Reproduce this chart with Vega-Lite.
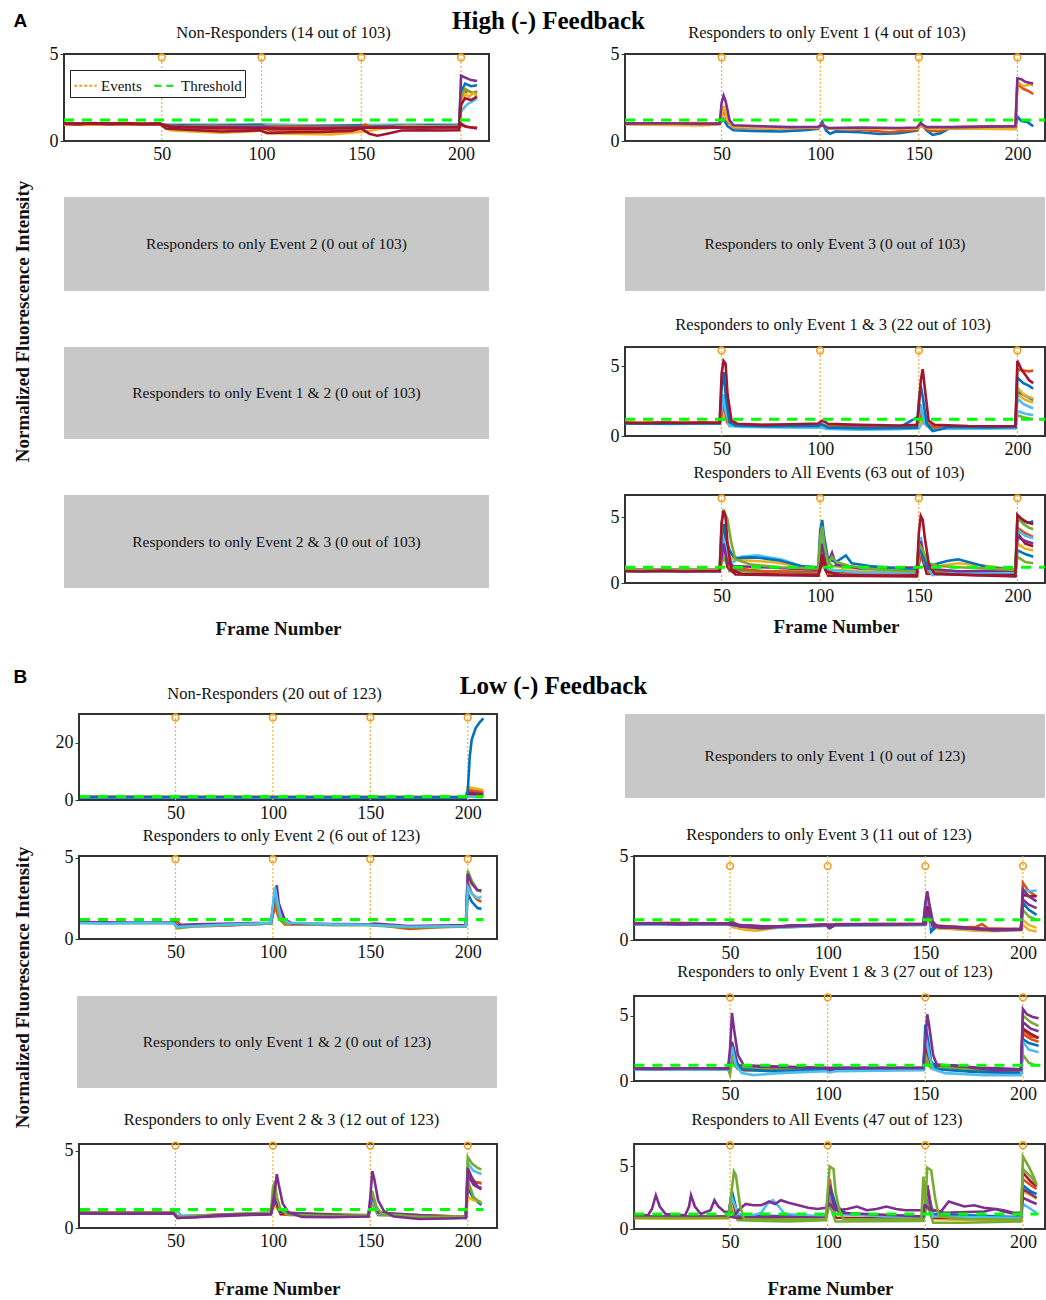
{
"$schema":"https://vega.github.io/schema/vega-lite/v6.json",
"background":"white",
"padding":{"left":12,"top":8,"right":0,"bottom":0},
"config":{
 "font":"Liberation Serif",
 "range":{"category":["#0072BD","#D95319","#EDB120","#7E2F8E","#77AC30","#4DBEEE","#A2142F","#0072BD","#D95319","#EDB120","#7E2F8E","#77AC30","#4DBEEE","#A2142F"]},
 "view":{"stroke":"#333333","strokeWidth":2},
 "axis":{"grid":false,"domain":false,"labelFont":"Liberation Serif","labelFontSize":18,"labelColor":"#111","tickColor":"#333","tickSize":4,"titleFont":"Liberation Serif","titleFontSize":19,"titleFontWeight":"bold","titleColor":"#111"},
 "axisX":{"ticks":false,"labelPadding":4},
 "axisY":{"labelPadding":2},
 "title":{"font":"Liberation Serif","fontSize":16.5,"fontWeight":"normal","color":"#111","offset":10},
 "legend":{"labelFont":"Liberation Serif","labelFontSize":15,"labelColor":"#111"}
},
"datasets":{
"ev":[{"e":50},{"e":100},{"e":150},{"e":200}],
"one":[{"k":1}],
"lg":[{"k":"Events"},{"k":"Threshold"}],
"a1":[
{"s":6,"x":1,"y":0.96},{"s":6,"x":20,"y":0.94},{"s":6,"x":49,"y":0.96},{"s":6,"x":55,"y":0.95},{"s":6,"x":80,"y":0.94},{"s":6,"x":100,"y":0.96},{"s":6,"x":125,"y":0.9},{"s":6,"x":150,"y":0.92},{"s":6,"x":175,"y":0.95},{"s":6,"x":199,"y":0.95},{"s":6,"x":200,"y":1.7},{"s":6,"x":203,"y":2.1},{"s":6,"x":206,"y":2.3},{"s":6,"x":208,"y":2.45},
{"s":1,"x":1,"y":1.0},{"s":1,"x":10,"y":0.97},{"s":1,"x":20,"y":1.0},{"s":1,"x":30,"y":0.96},{"s":1,"x":40,"y":1.0},{"s":1,"x":49,"y":0.98},{"s":1,"x":52,"y":0.88},{"s":1,"x":60,"y":0.9},{"s":1,"x":75,"y":0.87},{"s":1,"x":90,"y":0.9},{"s":1,"x":100,"y":0.92},{"s":1,"x":103,"y":0.82},{"s":1,"x":120,"y":0.85},{"s":1,"x":140,"y":0.88},{"s":1,"x":150,"y":0.9},{"s":1,"x":153,"y":0.82},{"s":1,"x":170,"y":0.88},{"s":1,"x":185,"y":0.9},{"s":1,"x":199,"y":0.88},{"s":1,"x":200,"y":2.8},{"s":1,"x":202,"y":3.3},{"s":1,"x":205,"y":3.15},{"s":1,"x":208,"y":3.2},
{"s":9,"x":1,"y":0.98},{"s":9,"x":49,"y":0.98},{"s":9,"x":55,"y":0.85},{"s":9,"x":100,"y":0.85},{"s":9,"x":150,"y":0.82},{"s":9,"x":199,"y":0.85},{"s":9,"x":200,"y":0.9},{"s":9,"x":203,"y":0.8},{"s":9,"x":208,"y":0.78},
{"s":2,"x":1,"y":1.02},{"s":2,"x":15,"y":1.0},{"s":2,"x":30,"y":1.03},{"s":2,"x":49,"y":1.0},{"s":2,"x":53,"y":0.78},{"s":2,"x":65,"y":0.72},{"s":2,"x":80,"y":0.7},{"s":2,"x":99,"y":0.75},{"s":2,"x":103,"y":0.6},{"s":2,"x":120,"y":0.62},{"s":2,"x":140,"y":0.65},{"s":2,"x":149,"y":0.72},{"s":2,"x":152,"y":0.95},{"s":2,"x":156,"y":0.72},{"s":2,"x":170,"y":0.78},{"s":2,"x":185,"y":0.75},{"s":2,"x":199,"y":0.72},{"s":2,"x":200,"y":2.4},{"s":2,"x":203,"y":2.9},{"s":2,"x":206,"y":2.75},{"s":2,"x":208,"y":2.85},
{"s":5,"x":1,"y":1.0},{"s":5,"x":25,"y":0.98},{"s":5,"x":49,"y":1.0},{"s":5,"x":54,"y":0.8},{"s":5,"x":80,"y":0.78},{"s":5,"x":100,"y":0.82},{"s":5,"x":104,"y":0.72},{"s":5,"x":150,"y":0.76},{"s":5,"x":175,"y":0.8},{"s":5,"x":199,"y":0.82},{"s":5,"x":200,"y":2.6},{"s":5,"x":202,"y":3.0},{"s":5,"x":205,"y":2.8},{"s":5,"x":208,"y":2.75},
{"s":3,"x":1,"y":0.95},{"s":3,"x":12,"y":0.92},{"s":3,"x":25,"y":0.96},{"s":3,"x":40,"y":0.93},{"s":3,"x":49,"y":0.95},{"s":3,"x":54,"y":0.62},{"s":3,"x":65,"y":0.55},{"s":3,"x":80,"y":0.48},{"s":3,"x":95,"y":0.55},{"s":3,"x":100,"y":0.62},{"s":3,"x":105,"y":0.45},{"s":3,"x":120,"y":0.4},{"s":3,"x":135,"y":0.38},{"s":3,"x":148,"y":0.5},{"s":3,"x":152,"y":0.55},{"s":3,"x":160,"y":0.7},{"s":3,"x":172,"y":0.88},{"s":3,"x":185,"y":0.85},{"s":3,"x":199,"y":0.82},{"s":3,"x":200,"y":2.0},{"s":3,"x":202,"y":2.7},{"s":3,"x":204,"y":2.55},{"s":3,"x":206,"y":2.75},{"s":3,"x":208,"y":2.6},
{"s":4,"x":1,"y":1.0},{"s":4,"x":20,"y":1.02},{"s":4,"x":40,"y":0.98},{"s":4,"x":49,"y":1.0},{"s":4,"x":54,"y":0.82},{"s":4,"x":70,"y":0.78},{"s":4,"x":100,"y":0.8},{"s":4,"x":110,"y":0.72},{"s":4,"x":150,"y":0.78},{"s":4,"x":170,"y":0.8},{"s":4,"x":199,"y":0.8},{"s":4,"x":200,"y":3.75},{"s":4,"x":203,"y":3.6},{"s":4,"x":205,"y":3.5},{"s":4,"x":208,"y":3.45},
{"s":14,"x":1,"y":1.0},{"s":14,"x":30,"y":0.98},{"s":14,"x":49,"y":0.97},{"s":14,"x":55,"y":0.82},{"s":14,"x":80,"y":0.75},{"s":14,"x":100,"y":0.72},{"s":14,"x":130,"y":0.7},{"s":14,"x":150,"y":0.76},{"s":14,"x":175,"y":0.78},{"s":14,"x":199,"y":0.8},{"s":14,"x":200,"y":1.0},{"s":14,"x":202,"y":0.85},{"s":14,"x":205,"y":0.78},{"s":14,"x":208,"y":0.72},
{"s":7,"x":1,"y":1.0},{"s":7,"x":8,"y":0.95},{"s":7,"x":16,"y":1.03},{"s":7,"x":24,"y":0.97},{"s":7,"x":32,"y":1.02},{"s":7,"x":40,"y":0.96},{"s":7,"x":49,"y":1.0},{"s":7,"x":52,"y":0.72},{"s":7,"x":60,"y":0.66},{"s":7,"x":70,"y":0.6},{"s":7,"x":80,"y":0.55},{"s":7,"x":90,"y":0.58},{"s":7,"x":99,"y":0.62},{"s":7,"x":103,"y":0.45},{"s":7,"x":115,"y":0.5},{"s":7,"x":130,"y":0.52},{"s":7,"x":145,"y":0.58},{"s":7,"x":150,"y":0.72},{"s":7,"x":154,"y":0.42},{"s":7,"x":158,"y":0.3},{"s":7,"x":163,"y":0.42},{"s":7,"x":170,"y":0.6},{"s":7,"x":180,"y":0.62},{"s":7,"x":190,"y":0.6},{"s":7,"x":199,"y":0.62},{"s":7,"x":200,"y":2.1},{"s":7,"x":202,"y":2.45},{"s":7,"x":205,"y":2.35},{"s":7,"x":208,"y":2.55}
],
"a2":[
{"s":1,"x":1,"y":1.0},{"s":1,"x":15,"y":0.98},{"s":1,"x":30,"y":1.0},{"s":1,"x":45,"y":0.97},{"s":1,"x":49,"y":1.0},{"s":1,"x":51,"y":1.25},{"s":1,"x":53,"y":0.85},{"s":1,"x":56,"y":0.62},{"s":1,"x":65,"y":0.58},{"s":1,"x":80,"y":0.55},{"s":1,"x":92,"y":0.62},{"s":1,"x":99,"y":0.7},{"s":1,"x":101,"y":1.1},{"s":1,"x":103,"y":0.6},{"s":1,"x":105,"y":0.42},{"s":1,"x":108,"y":0.55},{"s":1,"x":120,"y":0.5},{"s":1,"x":130,"y":0.4},{"s":1,"x":140,"y":0.45},{"s":1,"x":149,"y":0.6},{"s":1,"x":151,"y":1.05},{"s":1,"x":154,"y":0.6},{"s":1,"x":157,"y":0.35},{"s":1,"x":161,"y":0.45},{"s":1,"x":165,"y":0.7},{"s":1,"x":180,"y":0.72},{"s":1,"x":199,"y":0.72},{"s":1,"x":200,"y":1.4},{"s":1,"x":202,"y":1.15},{"s":1,"x":205,"y":1.1},{"s":1,"x":208,"y":0.85},
{"s":2,"x":1,"y":1.02},{"s":2,"x":20,"y":1.0},{"s":2,"x":35,"y":1.03},{"s":2,"x":49,"y":1.0},{"s":2,"x":51,"y":1.8},{"s":2,"x":53,"y":1.1},{"s":2,"x":56,"y":0.78},{"s":2,"x":75,"y":0.72},{"s":2,"x":99,"y":0.75},{"s":2,"x":101,"y":0.95},{"s":2,"x":104,"y":0.7},{"s":2,"x":120,"y":0.65},{"s":2,"x":135,"y":0.5},{"s":2,"x":149,"y":0.65},{"s":2,"x":151,"y":0.9},{"s":2,"x":155,"y":0.6},{"s":2,"x":160,"y":0.55},{"s":2,"x":168,"y":0.8},{"s":2,"x":185,"y":0.85},{"s":2,"x":199,"y":0.85},{"s":2,"x":200,"y":3.3},{"s":2,"x":203,"y":3.0},{"s":2,"x":206,"y":2.85},{"s":2,"x":208,"y":2.7},
{"s":3,"x":1,"y":0.95},{"s":3,"x":20,"y":0.92},{"s":3,"x":40,"y":0.9},{"s":3,"x":49,"y":0.95},{"s":3,"x":51,"y":2.0},{"s":3,"x":53,"y":1.2},{"s":3,"x":56,"y":0.8},{"s":3,"x":75,"y":0.75},{"s":3,"x":99,"y":0.78},{"s":3,"x":101,"y":0.9},{"s":3,"x":104,"y":0.72},{"s":3,"x":130,"y":0.7},{"s":3,"x":149,"y":0.7},{"s":3,"x":151,"y":0.9},{"s":3,"x":155,"y":0.72},{"s":3,"x":180,"y":0.7},{"s":3,"x":199,"y":0.68},{"s":3,"x":200,"y":3.4},{"s":3,"x":203,"y":3.15},{"s":3,"x":206,"y":3.25},{"s":3,"x":208,"y":3.2},
{"s":4,"x":1,"y":1.0},{"s":4,"x":20,"y":1.02},{"s":4,"x":40,"y":0.98},{"s":4,"x":49,"y":1.0},{"s":4,"x":50,"y":2.2},{"s":4,"x":51,"y":2.6},{"s":4,"x":52,"y":2.3},{"s":4,"x":54,"y":1.2},{"s":4,"x":56,"y":0.9},{"s":4,"x":70,"y":0.85},{"s":4,"x":85,"y":0.8},{"s":4,"x":99,"y":0.82},{"s":4,"x":101,"y":0.9},{"s":4,"x":104,"y":0.75},{"s":4,"x":120,"y":0.78},{"s":4,"x":140,"y":0.75},{"s":4,"x":149,"y":0.78},{"s":4,"x":151,"y":1.0},{"s":4,"x":154,"y":0.8},{"s":4,"x":170,"y":0.8},{"s":4,"x":185,"y":0.82},{"s":4,"x":199,"y":0.85},{"s":4,"x":200,"y":3.6},{"s":4,"x":202,"y":3.55},{"s":4,"x":204,"y":3.4},{"s":4,"x":206,"y":3.35},{"s":4,"x":208,"y":3.3}
],
"a3":[
{"s":13,"x":1,"y":0.9},{"s":13,"x":49,"y":0.88},{"s":13,"x":51,"y":1.4},{"s":13,"x":54,"y":0.7},{"s":13,"x":100,"y":0.6},{"s":13,"x":150,"y":0.55},{"s":13,"x":152,"y":1.0},{"s":13,"x":156,"y":0.5},{"s":13,"x":199,"y":0.55},{"s":13,"x":200,"y":1.8},{"s":13,"x":204,"y":1.6},{"s":13,"x":208,"y":1.5},
{"s":10,"x":1,"y":0.97},{"s":10,"x":49,"y":0.95},{"s":10,"x":51,"y":1.5},{"s":10,"x":54,"y":0.8},{"s":10,"x":100,"y":0.75},{"s":10,"x":150,"y":0.7},{"s":10,"x":152,"y":1.2},{"s":10,"x":156,"y":0.7},{"s":10,"x":199,"y":0.66},{"s":10,"x":200,"y":3.0},{"s":10,"x":204,"y":2.6},{"s":10,"x":208,"y":2.4},
{"s":8,"x":1,"y":0.92},{"s":8,"x":49,"y":0.9},{"s":8,"x":51,"y":2.0},{"s":8,"x":54,"y":0.85},{"s":8,"x":80,"y":0.7},{"s":8,"x":100,"y":0.7},{"s":8,"x":140,"y":0.6},{"s":8,"x":151,"y":1.5},{"s":8,"x":155,"y":0.7},{"s":8,"x":199,"y":0.62},{"s":8,"x":200,"y":3.2},{"s":8,"x":204,"y":2.9},{"s":8,"x":208,"y":2.6},
{"s":5,"x":1,"y":0.92},{"s":5,"x":30,"y":0.9},{"s":5,"x":49,"y":0.92},{"s":5,"x":50,"y":1.8},{"s":5,"x":51,"y":2.5},{"s":5,"x":53,"y":1.0},{"s":5,"x":57,"y":0.78},{"s":5,"x":90,"y":0.75},{"s":5,"x":99,"y":0.78},{"s":5,"x":103,"y":0.7},{"s":5,"x":140,"y":0.66},{"s":5,"x":149,"y":0.7},{"s":5,"x":151,"y":2.0},{"s":5,"x":153,"y":1.0},{"s":5,"x":158,"y":0.65},{"s":5,"x":199,"y":0.66},{"s":5,"x":200,"y":1.5},{"s":5,"x":203,"y":1.35},{"s":5,"x":208,"y":1.2},
{"s":3,"x":1,"y":0.95},{"s":3,"x":30,"y":0.98},{"s":3,"x":49,"y":0.95},{"s":3,"x":51,"y":1.8},{"s":3,"x":53,"y":0.9},{"s":3,"x":57,"y":0.72},{"s":3,"x":90,"y":0.7},{"s":3,"x":99,"y":0.72},{"s":3,"x":103,"y":0.68},{"s":3,"x":130,"y":0.55},{"s":3,"x":149,"y":0.6},{"s":3,"x":151,"y":1.3},{"s":3,"x":154,"y":0.7},{"s":3,"x":180,"y":0.62},{"s":3,"x":199,"y":0.58},{"s":3,"x":200,"y":3.5},{"s":3,"x":203,"y":3.0},{"s":3,"x":206,"y":2.8},{"s":3,"x":208,"y":2.7},
{"s":2,"x":1,"y":0.95},{"s":2,"x":25,"y":0.95},{"s":2,"x":49,"y":0.93},{"s":2,"x":51,"y":2.2},{"s":2,"x":53,"y":1.0},{"s":2,"x":57,"y":0.8},{"s":2,"x":80,"y":0.78},{"s":2,"x":99,"y":0.8},{"s":2,"x":103,"y":0.7},{"s":2,"x":130,"y":0.6},{"s":2,"x":149,"y":0.65},{"s":2,"x":151,"y":1.6},{"s":2,"x":153,"y":0.9},{"s":2,"x":158,"y":0.6},{"s":2,"x":180,"y":0.62},{"s":2,"x":199,"y":0.6},{"s":2,"x":200,"y":4.8},{"s":2,"x":203,"y":4.7},{"s":2,"x":206,"y":4.65},{"s":2,"x":208,"y":4.7},
{"s":6,"x":1,"y":0.9},{"s":6,"x":25,"y":0.87},{"s":6,"x":49,"y":0.9},{"s":6,"x":51,"y":3.0},{"s":6,"x":52,"y":1.8},{"s":6,"x":54,"y":0.8},{"s":6,"x":60,"y":0.65},{"s":6,"x":90,"y":0.62},{"s":6,"x":100,"y":0.65},{"s":6,"x":103,"y":0.5},{"s":6,"x":120,"y":0.45},{"s":6,"x":140,"y":0.48},{"s":6,"x":149,"y":0.55},{"s":6,"x":151,"y":2.3},{"s":6,"x":153,"y":0.9},{"s":6,"x":157,"y":0.4},{"s":6,"x":165,"y":0.6},{"s":6,"x":199,"y":0.6},{"s":6,"x":200,"y":2.7},{"s":6,"x":203,"y":2.3},{"s":6,"x":206,"y":2.1},{"s":6,"x":208,"y":2.0},
{"s":1,"x":1,"y":0.9},{"s":1,"x":20,"y":0.88},{"s":1,"x":40,"y":0.92},{"s":1,"x":49,"y":0.9},{"s":1,"x":50,"y":3.5},{"s":1,"x":51,"y":4.6},{"s":1,"x":52,"y":3.0},{"s":1,"x":54,"y":1.0},{"s":1,"x":57,"y":0.75},{"s":1,"x":75,"y":0.7},{"s":1,"x":99,"y":0.72},{"s":1,"x":101,"y":0.85},{"s":1,"x":104,"y":0.6},{"s":1,"x":125,"y":0.55},{"s":1,"x":149,"y":0.6},{"s":1,"x":150,"y":2.5},{"s":1,"x":151,"y":3.6},{"s":1,"x":152,"y":2.8},{"s":1,"x":154,"y":0.9},{"s":1,"x":157,"y":0.35},{"s":1,"x":160,"y":0.45},{"s":1,"x":165,"y":0.65},{"s":1,"x":185,"y":0.62},{"s":1,"x":199,"y":0.65},{"s":1,"x":200,"y":4.2},{"s":1,"x":203,"y":3.8},{"s":1,"x":206,"y":3.6},{"s":1,"x":208,"y":3.4},
{"s":7,"x":1,"y":0.95},{"s":7,"x":10,"y":0.92},{"s":7,"x":20,"y":0.97},{"s":7,"x":30,"y":0.93},{"s":7,"x":40,"y":0.96},{"s":7,"x":49,"y":0.95},{"s":7,"x":50,"y":4.5},{"s":7,"x":51,"y":5.4},{"s":7,"x":52,"y":5.2},{"s":7,"x":53,"y":3.0},{"s":7,"x":55,"y":1.1},{"s":7,"x":58,"y":0.88},{"s":7,"x":70,"y":0.8},{"s":7,"x":85,"y":0.85},{"s":7,"x":99,"y":0.9},{"s":7,"x":101,"y":1.1},{"s":7,"x":104,"y":0.88},{"s":7,"x":120,"y":0.8},{"s":7,"x":140,"y":0.75},{"s":7,"x":149,"y":0.8},{"s":7,"x":150,"y":2.0},{"s":7,"x":151,"y":4.0},{"s":7,"x":152,"y":4.8},{"s":7,"x":153,"y":3.5},{"s":7,"x":155,"y":1.1},{"s":7,"x":158,"y":0.8},{"s":7,"x":175,"y":0.72},{"s":7,"x":190,"y":0.7},{"s":7,"x":199,"y":0.72},{"s":7,"x":200,"y":5.4},{"s":7,"x":202,"y":4.8},{"s":7,"x":204,"y":4.4},{"s":7,"x":206,"y":4.0},{"s":7,"x":208,"y":3.8}
],
"a4":[
{"s":8,"x":1,"y":0.92},{"s":8,"x":49,"y":0.9},{"s":8,"x":51,"y":3.0},{"s":8,"x":54,"y":1.0},{"s":8,"x":99,"y":0.75},{"s":8,"x":101,"y":2.5},{"s":8,"x":104,"y":0.8},{"s":8,"x":149,"y":0.75},{"s":8,"x":151,"y":2.2},{"s":8,"x":154,"y":0.8},{"s":8,"x":199,"y":0.7},{"s":8,"x":200,"y":2.5},{"s":8,"x":204,"y":2.2},{"s":8,"x":208,"y":2.0},
{"s":12,"x":1,"y":0.95},{"s":12,"x":49,"y":0.95},{"s":12,"x":51,"y":2.0},{"s":12,"x":54,"y":0.9},{"s":12,"x":99,"y":0.8},{"s":12,"x":101,"y":3.8},{"s":12,"x":103,"y":1.8},{"s":12,"x":106,"y":1.3},{"s":12,"x":149,"y":0.9},{"s":12,"x":151,"y":2.0},{"s":12,"x":155,"y":0.9},{"s":12,"x":199,"y":0.85},{"s":12,"x":200,"y":2.0},{"s":12,"x":204,"y":1.6},{"s":12,"x":208,"y":1.5},
{"s":14,"x":1,"y":0.95},{"s":14,"x":49,"y":0.92},{"s":14,"x":51,"y":4.0},{"s":14,"x":53,"y":1.2},{"s":14,"x":57,"y":0.65},{"s":14,"x":99,"y":0.55},{"s":14,"x":101,"y":1.5},{"s":14,"x":104,"y":0.55},{"s":14,"x":149,"y":0.5},{"s":14,"x":151,"y":2.5},{"s":14,"x":154,"y":0.7},{"s":14,"x":199,"y":0.5},{"s":14,"x":200,"y":3.8},{"s":14,"x":204,"y":3.0},{"s":14,"x":208,"y":2.8},
{"s":2,"x":1,"y":1.0},{"s":2,"x":49,"y":1.0},{"s":2,"x":51,"y":3.5},{"s":2,"x":54,"y":1.2},{"s":2,"x":70,"y":0.9},{"s":2,"x":99,"y":0.85},{"s":2,"x":101,"y":2.0},{"s":2,"x":104,"y":0.7},{"s":2,"x":149,"y":0.7},{"s":2,"x":151,"y":2.5},{"s":2,"x":155,"y":0.8},{"s":2,"x":199,"y":0.7},{"s":2,"x":200,"y":4.2},{"s":2,"x":204,"y":3.8},{"s":2,"x":208,"y":3.5},
{"s":3,"x":1,"y":0.95},{"s":3,"x":49,"y":0.95},{"s":3,"x":51,"y":4.0},{"s":3,"x":53,"y":2.0},{"s":3,"x":56,"y":1.8},{"s":3,"x":65,"y":1.7},{"s":3,"x":75,"y":1.6},{"s":3,"x":85,"y":1.4},{"s":3,"x":99,"y":1.1},{"s":3,"x":101,"y":2.5},{"s":3,"x":104,"y":1.0},{"s":3,"x":130,"y":0.9},{"s":3,"x":149,"y":0.85},{"s":3,"x":151,"y":3.0},{"s":3,"x":154,"y":1.4},{"s":3,"x":160,"y":1.3},{"s":3,"x":170,"y":1.5},{"s":3,"x":185,"y":1.3},{"s":3,"x":199,"y":1.0},{"s":3,"x":200,"y":3.0},{"s":3,"x":204,"y":2.6},{"s":3,"x":208,"y":2.5},
{"s":6,"x":1,"y":0.9},{"s":6,"x":49,"y":0.9},{"s":6,"x":51,"y":4.0},{"s":6,"x":52,"y":3.0},{"s":6,"x":55,"y":1.5},{"s":6,"x":60,"y":2.0},{"s":6,"x":68,"y":2.1},{"s":6,"x":80,"y":1.8},{"s":6,"x":92,"y":1.2},{"s":6,"x":99,"y":1.0},{"s":6,"x":101,"y":3.5},{"s":6,"x":103,"y":1.0},{"s":6,"x":120,"y":0.8},{"s":6,"x":149,"y":0.8},{"s":6,"x":151,"y":3.5},{"s":6,"x":153,"y":1.5},{"s":6,"x":157,"y":0.6},{"s":6,"x":170,"y":0.8},{"s":6,"x":199,"y":0.75},{"s":6,"x":200,"y":4.0},{"s":6,"x":204,"y":3.6},{"s":6,"x":208,"y":3.4},
{"s":4,"x":1,"y":1.0},{"s":4,"x":49,"y":0.98},{"s":4,"x":51,"y":3.0},{"s":4,"x":53,"y":1.5},{"s":4,"x":56,"y":1.3},{"s":4,"x":70,"y":1.2},{"s":4,"x":99,"y":1.0},{"s":4,"x":101,"y":3.0},{"s":4,"x":103,"y":1.2},{"s":4,"x":106,"y":2.3},{"s":4,"x":108,"y":1.4},{"s":4,"x":120,"y":1.1},{"s":4,"x":149,"y":1.2},{"s":4,"x":151,"y":3.2},{"s":4,"x":154,"y":1.1},{"s":4,"x":170,"y":0.9},{"s":4,"x":199,"y":0.95},{"s":4,"x":200,"y":3.5},{"s":4,"x":204,"y":3.2},{"s":4,"x":208,"y":3.0},
{"s":1,"x":1,"y":0.95},{"s":1,"x":20,"y":0.93},{"s":1,"x":49,"y":0.95},{"s":1,"x":50,"y":3.5},{"s":1,"x":51,"y":4.5},{"s":1,"x":52,"y":3.5},{"s":1,"x":54,"y":2.5},{"s":1,"x":56,"y":2.0},{"s":1,"x":58,"y":1.9},{"s":1,"x":65,"y":1.95},{"s":1,"x":70,"y":1.9},{"s":1,"x":80,"y":1.7},{"s":1,"x":90,"y":1.3},{"s":1,"x":99,"y":1.2},{"s":1,"x":100,"y":4.0},{"s":1,"x":101,"y":4.8},{"s":1,"x":102,"y":3.5},{"s":1,"x":104,"y":1.8},{"s":1,"x":108,"y":1.6},{"s":1,"x":113,"y":2.1},{"s":1,"x":116,"y":1.5},{"s":1,"x":125,"y":1.3},{"s":1,"x":140,"y":1.1},{"s":1,"x":149,"y":1.0},{"s":1,"x":150,"y":3.0},{"s":1,"x":152,"y":2.0},{"s":1,"x":155,"y":1.2},{"s":1,"x":160,"y":1.5},{"s":1,"x":165,"y":1.7},{"s":1,"x":170,"y":1.8},{"s":1,"x":175,"y":1.6},{"s":1,"x":185,"y":1.2},{"s":1,"x":199,"y":1.0},{"s":1,"x":200,"y":4.8},{"s":1,"x":203,"y":4.7},{"s":1,"x":206,"y":4.6},{"s":1,"x":208,"y":4.7},
{"s":5,"x":1,"y":1.0},{"s":5,"x":30,"y":0.98},{"s":5,"x":49,"y":1.0},{"s":5,"x":50,"y":4.5},{"s":5,"x":51,"y":5.6},{"s":5,"x":53,"y":4.8},{"s":5,"x":55,"y":3.0},{"s":5,"x":57,"y":1.8},{"s":5,"x":65,"y":1.4},{"s":5,"x":80,"y":1.2},{"s":5,"x":99,"y":1.1},{"s":5,"x":100,"y":3.5},{"s":5,"x":101,"y":4.3},{"s":5,"x":102,"y":3.0},{"s":5,"x":104,"y":1.5},{"s":5,"x":106,"y":2.0},{"s":5,"x":108,"y":1.6},{"s":5,"x":115,"y":1.3},{"s":5,"x":130,"y":1.0},{"s":5,"x":149,"y":0.9},{"s":5,"x":150,"y":3.0},{"s":5,"x":152,"y":2.5},{"s":5,"x":155,"y":1.5},{"s":5,"x":160,"y":1.3},{"s":5,"x":170,"y":1.2},{"s":5,"x":199,"y":1.0},{"s":5,"x":200,"y":5.0},{"s":5,"x":203,"y":4.5},{"s":5,"x":206,"y":4.2},{"s":5,"x":208,"y":4.1},
{"s":7,"x":1,"y":0.9},{"s":7,"x":10,"y":0.87},{"s":7,"x":20,"y":0.92},{"s":7,"x":30,"y":0.88},{"s":7,"x":40,"y":0.9},{"s":7,"x":49,"y":0.9},{"s":7,"x":50,"y":4.6},{"s":7,"x":51,"y":5.5},{"s":7,"x":52,"y":5.0},{"s":7,"x":53,"y":3.0},{"s":7,"x":55,"y":1.0},{"s":7,"x":60,"y":0.7},{"s":7,"x":80,"y":0.65},{"s":7,"x":99,"y":0.6},{"s":7,"x":100,"y":1.2},{"s":7,"x":101,"y":2.2},{"s":7,"x":103,"y":0.9},{"s":7,"x":110,"y":0.6},{"s":7,"x":140,"y":0.55},{"s":7,"x":149,"y":0.6},{"s":7,"x":150,"y":3.8},{"s":7,"x":151,"y":5.1},{"s":7,"x":152,"y":4.8},{"s":7,"x":153,"y":3.5},{"s":7,"x":155,"y":1.5},{"s":7,"x":158,"y":0.7},{"s":7,"x":180,"y":0.6},{"s":7,"x":199,"y":0.6},{"s":7,"x":200,"y":5.2},{"s":7,"x":202,"y":4.9},{"s":7,"x":205,"y":4.6},{"s":7,"x":208,"y":4.5}
],
"b1":[
{"s":5,"x":1,"y":1.0},{"s":5,"x":100,"y":1.0},{"s":5,"x":199,"y":1.0},{"s":5,"x":200,"y":1.8},{"s":5,"x":204,"y":1.5},{"s":5,"x":208,"y":1.4},
{"s":7,"x":1,"y":1.0},{"s":7,"x":100,"y":0.95},{"s":7,"x":199,"y":0.95},{"s":7,"x":200,"y":2.2},{"s":7,"x":204,"y":2.0},{"s":7,"x":208,"y":1.9},
{"s":4,"x":1,"y":1.0},{"s":4,"x":100,"y":1.0},{"s":4,"x":199,"y":0.95},{"s":4,"x":200,"y":3.0},{"s":4,"x":204,"y":2.6},{"s":4,"x":208,"y":2.5},
{"s":2,"x":1,"y":1.0},{"s":2,"x":100,"y":1.0},{"s":2,"x":199,"y":1.0},{"s":2,"x":200,"y":3.5},{"s":2,"x":204,"y":3.2},{"s":2,"x":208,"y":3.0},
{"s":3,"x":1,"y":1.0},{"s":3,"x":50,"y":1.0},{"s":3,"x":100,"y":1.0},{"s":3,"x":150,"y":1.0},{"s":3,"x":199,"y":1.0},{"s":3,"x":200,"y":4.5},{"s":3,"x":204,"y":4.0},{"s":3,"x":208,"y":3.5},
{"s":6,"x":1,"y":0.9},{"s":6,"x":100,"y":0.9},{"s":6,"x":199,"y":0.9},{"s":6,"x":200,"y":1.2},{"s":6,"x":204,"y":1.0},{"s":6,"x":208,"y":1.0},
{"s":1,"x":1,"y":1.0},{"s":1,"x":50,"y":0.95},{"s":1,"x":100,"y":0.95},{"s":1,"x":150,"y":0.9},{"s":1,"x":199,"y":0.9},{"s":1,"x":200,"y":3.0},{"s":1,"x":201,"y":15.0},{"s":1,"x":202,"y":21.0},{"s":1,"x":204,"y":25.0},{"s":1,"x":206,"y":27.0},{"s":1,"x":208,"y":28.5}
],
"b2":[
{"s":1,"x":1,"y":1.0},{"s":1,"x":20,"y":0.98},{"s":1,"x":49,"y":1.0},{"s":1,"x":51,"y":0.7},{"s":1,"x":55,"y":0.78},{"s":1,"x":75,"y":0.85},{"s":1,"x":99,"y":0.95},{"s":1,"x":101,"y":2.2},{"s":1,"x":103,"y":1.5},{"s":1,"x":106,"y":1.0},{"s":1,"x":120,"y":0.9},{"s":1,"x":149,"y":0.88},{"s":1,"x":152,"y":0.9},{"s":1,"x":170,"y":0.7},{"s":1,"x":185,"y":0.75},{"s":1,"x":199,"y":0.8},{"s":1,"x":200,"y":2.8},{"s":1,"x":202,"y":2.3},{"s":1,"x":205,"y":1.9},{"s":1,"x":207,"y":1.85},
{"s":2,"x":1,"y":1.0},{"s":2,"x":25,"y":1.0},{"s":2,"x":49,"y":1.0},{"s":2,"x":51,"y":1.1},{"s":2,"x":53,"y":0.8},{"s":2,"x":65,"y":0.78},{"s":2,"x":80,"y":0.85},{"s":2,"x":99,"y":0.95},{"s":2,"x":101,"y":2.0},{"s":2,"x":103,"y":1.3},{"s":2,"x":106,"y":0.9},{"s":2,"x":130,"y":0.88},{"s":2,"x":149,"y":0.88},{"s":2,"x":152,"y":0.9},{"s":2,"x":170,"y":0.62},{"s":2,"x":185,"y":0.72},{"s":2,"x":199,"y":0.78},{"s":2,"x":200,"y":3.5},{"s":2,"x":202,"y":2.8},{"s":2,"x":205,"y":2.4},{"s":2,"x":207,"y":2.3},
{"s":5,"x":1,"y":0.98},{"s":5,"x":30,"y":0.98},{"s":5,"x":49,"y":0.98},{"s":5,"x":51,"y":0.65},{"s":5,"x":60,"y":0.78},{"s":5,"x":80,"y":0.88},{"s":5,"x":99,"y":0.95},{"s":5,"x":101,"y":2.8},{"s":5,"x":103,"y":1.5},{"s":5,"x":106,"y":0.95},{"s":5,"x":130,"y":0.85},{"s":5,"x":149,"y":0.85},{"s":5,"x":152,"y":0.82},{"s":5,"x":170,"y":0.72},{"s":5,"x":199,"y":0.75},{"s":5,"x":200,"y":4.2},{"s":5,"x":202,"y":3.6},{"s":5,"x":205,"y":3.0},{"s":5,"x":207,"y":2.9},
{"s":4,"x":1,"y":1.02},{"s":4,"x":30,"y":1.0},{"s":4,"x":49,"y":1.0},{"s":4,"x":51,"y":0.85},{"s":4,"x":60,"y":0.9},{"s":4,"x":80,"y":0.95},{"s":4,"x":99,"y":1.0},{"s":4,"x":101,"y":2.8},{"s":4,"x":102,"y":3.3},{"s":4,"x":103,"y":2.2},{"s":4,"x":106,"y":1.2},{"s":4,"x":110,"y":0.95},{"s":4,"x":130,"y":0.92},{"s":4,"x":149,"y":0.9},{"s":4,"x":152,"y":0.95},{"s":4,"x":170,"y":0.8},{"s":4,"x":199,"y":0.85},{"s":4,"x":200,"y":4.0},{"s":4,"x":202,"y":3.4},{"s":4,"x":205,"y":3.0},{"s":4,"x":207,"y":3.0},
{"s":6,"x":1,"y":0.98},{"s":6,"x":15,"y":0.95},{"s":6,"x":30,"y":1.0},{"s":6,"x":49,"y":0.98},{"s":6,"x":51,"y":0.75},{"s":6,"x":60,"y":0.8},{"s":6,"x":80,"y":0.9},{"s":6,"x":99,"y":0.98},{"s":6,"x":101,"y":3.2},{"s":6,"x":102,"y":2.5},{"s":6,"x":104,"y":1.3},{"s":6,"x":108,"y":1.0},{"s":6,"x":130,"y":0.9},{"s":6,"x":149,"y":0.88},{"s":6,"x":152,"y":0.85},{"s":6,"x":170,"y":0.75},{"s":6,"x":199,"y":0.8},{"s":6,"x":200,"y":3.2},{"s":6,"x":202,"y":2.8},{"s":6,"x":205,"y":2.5},{"s":6,"x":207,"y":2.6}
],
"b3":[
{"s":10,"x":1,"y":0.95},{"s":10,"x":49,"y":0.95},{"s":10,"x":52,"y":0.75},{"s":10,"x":62,"y":0.6},{"s":10,"x":75,"y":0.75},{"s":10,"x":100,"y":0.85},{"s":10,"x":150,"y":0.9},{"s":10,"x":152,"y":1.2},{"s":10,"x":155,"y":0.7},{"s":10,"x":185,"y":0.55},{"s":10,"x":199,"y":0.6},{"s":10,"x":200,"y":0.9},{"s":10,"x":203,"y":0.6},{"s":10,"x":207,"y":0.5},
{"s":3,"x":1,"y":0.95},{"s":3,"x":49,"y":0.95},{"s":3,"x":51,"y":0.8},{"s":3,"x":58,"y":0.6},{"s":3,"x":64,"y":0.55},{"s":3,"x":72,"y":0.7},{"s":3,"x":99,"y":0.9},{"s":3,"x":101,"y":0.72},{"s":3,"x":104,"y":0.9},{"s":3,"x":149,"y":0.92},{"s":3,"x":151,"y":1.5},{"s":3,"x":154,"y":0.75},{"s":3,"x":175,"y":0.55},{"s":3,"x":185,"y":0.52},{"s":3,"x":199,"y":0.6},{"s":3,"x":200,"y":1.2},{"s":3,"x":203,"y":0.9},{"s":3,"x":207,"y":0.72},
{"s":5,"x":1,"y":0.95},{"s":5,"x":49,"y":0.95},{"s":5,"x":52,"y":0.85},{"s":5,"x":70,"y":0.75},{"s":5,"x":100,"y":0.88},{"s":5,"x":150,"y":0.92},{"s":5,"x":151,"y":1.6},{"s":5,"x":154,"y":0.8},{"s":5,"x":185,"y":0.58},{"s":5,"x":199,"y":0.6},{"s":5,"x":200,"y":1.8},{"s":5,"x":203,"y":1.4},{"s":5,"x":207,"y":1.2},
{"s":1,"x":1,"y":0.95},{"s":1,"x":25,"y":0.92},{"s":1,"x":49,"y":0.95},{"s":1,"x":51,"y":1.0},{"s":1,"x":54,"y":0.85},{"s":1,"x":65,"y":0.7},{"s":1,"x":80,"y":0.85},{"s":1,"x":99,"y":0.9},{"s":1,"x":101,"y":0.7},{"s":1,"x":104,"y":0.88},{"s":1,"x":130,"y":0.92},{"s":1,"x":149,"y":0.95},{"s":1,"x":150,"y":2.0},{"s":1,"x":151,"y":2.7},{"s":1,"x":152,"y":1.8},{"s":1,"x":153,"y":0.5},{"s":1,"x":156,"y":0.85},{"s":1,"x":170,"y":0.75},{"s":1,"x":185,"y":0.6},{"s":1,"x":199,"y":0.65},{"s":1,"x":200,"y":2.2},{"s":1,"x":203,"y":1.8},{"s":1,"x":207,"y":1.5},
{"s":2,"x":1,"y":1.0},{"s":2,"x":20,"y":1.02},{"s":2,"x":49,"y":0.98},{"s":2,"x":51,"y":1.1},{"s":2,"x":55,"y":0.85},{"s":2,"x":70,"y":0.78},{"s":2,"x":99,"y":0.92},{"s":2,"x":101,"y":0.75},{"s":2,"x":104,"y":0.95},{"s":2,"x":149,"y":0.95},{"s":2,"x":151,"y":2.2},{"s":2,"x":153,"y":1.2},{"s":2,"x":156,"y":0.85},{"s":2,"x":170,"y":0.75},{"s":2,"x":176,"y":0.78},{"s":2,"x":179,"y":0.95},{"s":2,"x":182,"y":0.7},{"s":2,"x":199,"y":0.65},{"s":2,"x":200,"y":3.4},{"s":2,"x":203,"y":2.9},{"s":2,"x":207,"y":2.6},
{"s":6,"x":1,"y":0.92},{"s":6,"x":49,"y":0.92},{"s":6,"x":52,"y":0.85},{"s":6,"x":70,"y":0.72},{"s":6,"x":100,"y":0.85},{"s":6,"x":150,"y":0.9},{"s":6,"x":151,"y":2.5},{"s":6,"x":153,"y":0.8},{"s":6,"x":185,"y":0.6},{"s":6,"x":199,"y":0.62},{"s":6,"x":200,"y":3.0},{"s":6,"x":203,"y":2.9},{"s":6,"x":207,"y":2.95},
{"s":7,"x":1,"y":0.97},{"s":7,"x":49,"y":0.97},{"s":7,"x":52,"y":0.9},{"s":7,"x":70,"y":0.8},{"s":7,"x":100,"y":0.9},{"s":7,"x":150,"y":0.95},{"s":7,"x":151,"y":2.0},{"s":7,"x":154,"y":0.85},{"s":7,"x":185,"y":0.62},{"s":7,"x":199,"y":0.65},{"s":7,"x":200,"y":2.7},{"s":7,"x":203,"y":2.6},{"s":7,"x":207,"y":2.6},
{"s":11,"x":1,"y":0.98},{"s":11,"x":49,"y":0.96},{"s":11,"x":52,"y":0.9},{"s":11,"x":70,"y":0.78},{"s":11,"x":100,"y":0.9},{"s":11,"x":150,"y":0.95},{"s":11,"x":151,"y":1.8},{"s":11,"x":154,"y":0.8},{"s":11,"x":185,"y":0.6},{"s":11,"x":199,"y":0.62},{"s":11,"x":200,"y":2.4},{"s":11,"x":203,"y":2.1},{"s":11,"x":207,"y":1.9},
{"s":4,"x":1,"y":0.95},{"s":4,"x":12,"y":0.98},{"s":4,"x":24,"y":0.93},{"s":4,"x":36,"y":0.97},{"s":4,"x":49,"y":0.95},{"s":4,"x":51,"y":1.05},{"s":4,"x":55,"y":0.8},{"s":4,"x":68,"y":0.7},{"s":4,"x":80,"y":0.85},{"s":4,"x":99,"y":0.92},{"s":4,"x":101,"y":0.72},{"s":4,"x":104,"y":0.92},{"s":4,"x":125,"y":0.95},{"s":4,"x":149,"y":0.95},{"s":4,"x":150,"y":2.2},{"s":4,"x":151,"y":2.9},{"s":4,"x":152,"y":2.2},{"s":4,"x":154,"y":1.0},{"s":4,"x":157,"y":0.75},{"s":4,"x":170,"y":0.72},{"s":4,"x":185,"y":0.58},{"s":4,"x":199,"y":0.62},{"s":4,"x":200,"y":3.0},{"s":4,"x":203,"y":2.6},{"s":4,"x":207,"y":2.3}
],
"b4":[
{"s":5,"x":1,"y":0.92},{"s":5,"x":49,"y":0.9},{"s":5,"x":50,"y":0.5},{"s":5,"x":51,"y":1.5},{"s":5,"x":54,"y":0.9},{"s":5,"x":80,"y":0.85},{"s":5,"x":99,"y":0.9},{"s":5,"x":149,"y":0.9},{"s":5,"x":150,"y":1.5},{"s":5,"x":153,"y":1.0},{"s":5,"x":180,"y":0.75},{"s":5,"x":199,"y":0.7},{"s":5,"x":200,"y":2.0},{"s":5,"x":203,"y":1.4},{"s":5,"x":206,"y":1.2},{"s":5,"x":208,"y":1.2},
{"s":2,"x":1,"y":0.95},{"s":2,"x":49,"y":0.95},{"s":2,"x":51,"y":2.0},{"s":2,"x":53,"y":1.1},{"s":2,"x":57,"y":0.8},{"s":2,"x":75,"y":0.8},{"s":2,"x":99,"y":0.9},{"s":2,"x":149,"y":0.95},{"s":2,"x":150,"y":2.5},{"s":2,"x":152,"y":1.4},{"s":2,"x":156,"y":0.95},{"s":2,"x":180,"y":0.7},{"s":2,"x":199,"y":0.65},{"s":2,"x":200,"y":3.6},{"s":2,"x":204,"y":3.2},{"s":2,"x":208,"y":3.0},
{"s":9,"x":1,"y":0.95},{"s":9,"x":49,"y":0.95},{"s":9,"x":51,"y":1.6},{"s":9,"x":54,"y":0.95},{"s":9,"x":100,"y":0.9},{"s":9,"x":149,"y":0.9},{"s":9,"x":150,"y":1.8},{"s":9,"x":153,"y":1.0},{"s":9,"x":199,"y":0.75},{"s":9,"x":200,"y":3.9},{"s":9,"x":204,"y":3.4},{"s":9,"x":208,"y":3.3},
{"s":7,"x":1,"y":0.97},{"s":7,"x":49,"y":0.95},{"s":7,"x":51,"y":2.2},{"s":7,"x":54,"y":1.0},{"s":7,"x":100,"y":0.92},{"s":7,"x":149,"y":0.92},{"s":7,"x":150,"y":2.8},{"s":7,"x":153,"y":1.1},{"s":7,"x":180,"y":0.85},{"s":7,"x":199,"y":0.8},{"s":7,"x":200,"y":4.0},{"s":7,"x":204,"y":3.6},{"s":7,"x":208,"y":3.3},
{"s":12,"x":1,"y":0.95},{"s":12,"x":49,"y":0.95},{"s":12,"x":51,"y":1.8},{"s":12,"x":54,"y":1.0},{"s":12,"x":100,"y":0.9},{"s":12,"x":149,"y":0.9},{"s":12,"x":150,"y":2.0},{"s":12,"x":153,"y":1.0},{"s":12,"x":199,"y":0.8},{"s":12,"x":200,"y":5.0},{"s":12,"x":204,"y":4.5},{"s":12,"x":208,"y":4.2},
{"s":11,"x":1,"y":0.95},{"s":11,"x":49,"y":0.95},{"s":11,"x":51,"y":3.0},{"s":11,"x":54,"y":1.2},{"s":11,"x":100,"y":1.0},{"s":11,"x":149,"y":1.0},{"s":11,"x":150,"y":3.2},{"s":11,"x":153,"y":1.3},{"s":11,"x":180,"y":1.0},{"s":11,"x":199,"y":0.9},{"s":11,"x":200,"y":4.5},{"s":11,"x":204,"y":4.0},{"s":11,"x":208,"y":3.8},
{"s":1,"x":1,"y":0.9},{"s":1,"x":49,"y":0.9},{"s":1,"x":51,"y":2.7},{"s":1,"x":53,"y":1.5},{"s":1,"x":56,"y":0.9},{"s":1,"x":70,"y":0.75},{"s":1,"x":99,"y":0.85},{"s":1,"x":101,"y":0.7},{"s":1,"x":104,"y":0.85},{"s":1,"x":149,"y":0.9},{"s":1,"x":150,"y":4.3},{"s":1,"x":151,"y":3.5},{"s":1,"x":153,"y":1.5},{"s":1,"x":156,"y":0.9},{"s":1,"x":175,"y":0.7},{"s":1,"x":199,"y":0.6},{"s":1,"x":200,"y":3.2},{"s":1,"x":203,"y":2.9},{"s":1,"x":208,"y":2.7},
{"s":6,"x":1,"y":0.88},{"s":6,"x":20,"y":0.9},{"s":6,"x":49,"y":0.88},{"s":6,"x":51,"y":2.6},{"s":6,"x":53,"y":1.2},{"s":6,"x":56,"y":0.6},{"s":6,"x":62,"y":0.45},{"s":6,"x":75,"y":0.6},{"s":6,"x":99,"y":0.75},{"s":6,"x":101,"y":0.65},{"s":6,"x":104,"y":0.75},{"s":6,"x":149,"y":0.82},{"s":6,"x":150,"y":3.5},{"s":6,"x":152,"y":2.0},{"s":6,"x":154,"y":0.9},{"s":6,"x":160,"y":0.6},{"s":6,"x":180,"y":0.45},{"s":6,"x":199,"y":0.45},{"s":6,"x":200,"y":3.0},{"s":6,"x":203,"y":2.4},{"s":6,"x":208,"y":2.2},
{"s":4,"x":1,"y":0.95},{"s":4,"x":15,"y":0.92},{"s":4,"x":30,"y":0.97},{"s":4,"x":49,"y":0.95},{"s":4,"x":50,"y":2.5},{"s":4,"x":51,"y":5.2},{"s":4,"x":52,"y":4.0},{"s":4,"x":54,"y":2.0},{"s":4,"x":57,"y":1.2},{"s":4,"x":65,"y":1.1},{"s":4,"x":80,"y":1.05},{"s":4,"x":99,"y":1.0},{"s":4,"x":101,"y":0.85},{"s":4,"x":104,"y":1.0},{"s":4,"x":130,"y":1.0},{"s":4,"x":149,"y":1.0},{"s":4,"x":150,"y":3.0},{"s":4,"x":151,"y":5.1},{"s":4,"x":152,"y":4.2},{"s":4,"x":154,"y":2.0},{"s":4,"x":156,"y":1.2},{"s":4,"x":165,"y":1.2},{"s":4,"x":175,"y":1.0},{"s":4,"x":185,"y":0.85},{"s":4,"x":199,"y":0.85},{"s":4,"x":200,"y":5.5},{"s":4,"x":202,"y":5.1},{"s":4,"x":205,"y":4.9},{"s":4,"x":208,"y":4.8}
],
"b5":[
{"s":1,"x":1,"y":0.95},{"s":1,"x":49,"y":0.95},{"s":1,"x":51,"y":0.7},{"s":1,"x":70,"y":0.8},{"s":1,"x":99,"y":0.92},{"s":1,"x":101,"y":1.8},{"s":1,"x":104,"y":0.95},{"s":1,"x":149,"y":0.78},{"s":1,"x":151,"y":1.6},{"s":1,"x":154,"y":0.85},{"s":1,"x":199,"y":0.7},{"s":1,"x":200,"y":2.6},{"s":1,"x":203,"y":1.9},{"s":1,"x":207,"y":1.5},
{"s":3,"x":1,"y":1.0},{"s":3,"x":49,"y":1.0},{"s":3,"x":51,"y":0.75},{"s":3,"x":70,"y":0.85},{"s":3,"x":99,"y":0.95},{"s":3,"x":101,"y":1.5},{"s":3,"x":104,"y":0.9},{"s":3,"x":149,"y":0.8},{"s":3,"x":151,"y":1.4},{"s":3,"x":154,"y":0.85},{"s":3,"x":199,"y":0.75},{"s":3,"x":200,"y":2.0},{"s":3,"x":203,"y":1.8},{"s":3,"x":207,"y":1.7},
{"s":12,"x":1,"y":0.98},{"s":12,"x":49,"y":0.98},{"s":12,"x":51,"y":0.72},{"s":12,"x":99,"y":0.95},{"s":12,"x":101,"y":2.2},{"s":12,"x":104,"y":1.0},{"s":12,"x":149,"y":0.82},{"s":12,"x":151,"y":2.0},{"s":12,"x":154,"y":0.9},{"s":12,"x":199,"y":0.75},{"s":12,"x":200,"y":3.1},{"s":12,"x":203,"y":2.0},{"s":12,"x":207,"y":1.6},
{"s":7,"x":1,"y":1.0},{"s":7,"x":49,"y":1.0},{"s":7,"x":51,"y":0.72},{"s":7,"x":99,"y":0.95},{"s":7,"x":101,"y":1.8},{"s":7,"x":104,"y":0.9},{"s":7,"x":149,"y":0.8},{"s":7,"x":151,"y":1.8},{"s":7,"x":154,"y":0.9},{"s":7,"x":199,"y":0.72},{"s":7,"x":200,"y":3.2},{"s":7,"x":203,"y":3.0},{"s":7,"x":207,"y":2.9},
{"s":2,"x":1,"y":1.0},{"s":2,"x":49,"y":1.0},{"s":2,"x":51,"y":0.75},{"s":2,"x":70,"y":0.85},{"s":2,"x":99,"y":1.0},{"s":2,"x":101,"y":2.5},{"s":2,"x":103,"y":1.4},{"s":2,"x":106,"y":0.9},{"s":2,"x":130,"y":0.8},{"s":2,"x":149,"y":0.85},{"s":2,"x":151,"y":2.0},{"s":2,"x":154,"y":1.0},{"s":2,"x":175,"y":0.75},{"s":2,"x":199,"y":0.78},{"s":2,"x":200,"y":3.2},{"s":2,"x":203,"y":3.0},{"s":2,"x":207,"y":2.9},
{"s":6,"x":1,"y":0.97},{"s":6,"x":49,"y":0.97},{"s":6,"x":51,"y":1.1},{"s":6,"x":53,"y":0.8},{"s":6,"x":70,"y":0.82},{"s":6,"x":99,"y":0.95},{"s":6,"x":101,"y":2.0},{"s":6,"x":104,"y":1.0},{"s":6,"x":130,"y":0.78},{"s":6,"x":149,"y":0.8},{"s":6,"x":151,"y":1.8},{"s":6,"x":154,"y":0.9},{"s":6,"x":175,"y":0.7},{"s":6,"x":199,"y":0.72},{"s":6,"x":200,"y":4.2},{"s":6,"x":203,"y":3.7},{"s":6,"x":207,"y":3.5},
{"s":11,"x":1,"y":0.97},{"s":11,"x":49,"y":0.97},{"s":11,"x":51,"y":0.65},{"s":11,"x":99,"y":0.9},{"s":11,"x":101,"y":2.0},{"s":11,"x":104,"y":1.0},{"s":11,"x":149,"y":0.75},{"s":11,"x":151,"y":2.2},{"s":11,"x":154,"y":1.0},{"s":11,"x":199,"y":0.65},{"s":11,"x":200,"y":3.5},{"s":11,"x":203,"y":2.8},{"s":11,"x":207,"y":2.5},
{"s":5,"x":1,"y":1.0},{"s":5,"x":25,"y":0.98},{"s":5,"x":49,"y":1.0},{"s":5,"x":51,"y":0.7},{"s":5,"x":60,"y":0.78},{"s":5,"x":80,"y":0.9},{"s":5,"x":99,"y":1.0},{"s":5,"x":100,"y":2.6},{"s":5,"x":101,"y":3.0},{"s":5,"x":102,"y":2.0},{"s":5,"x":104,"y":1.2},{"s":5,"x":108,"y":0.85},{"s":5,"x":130,"y":0.78},{"s":5,"x":149,"y":0.8},{"s":5,"x":150,"y":1.8},{"s":5,"x":151,"y":2.4},{"s":5,"x":153,"y":1.4},{"s":5,"x":156,"y":0.9},{"s":5,"x":175,"y":0.72},{"s":5,"x":199,"y":0.75},{"s":5,"x":200,"y":4.6},{"s":5,"x":202,"y":4.2},{"s":5,"x":205,"y":3.9},{"s":5,"x":207,"y":3.8},
{"s":4,"x":1,"y":0.95},{"s":4,"x":20,"y":0.93},{"s":4,"x":49,"y":0.95},{"s":4,"x":51,"y":0.65},{"s":4,"x":60,"y":0.7},{"s":4,"x":75,"y":0.85},{"s":4,"x":99,"y":0.9},{"s":4,"x":101,"y":2.5},{"s":4,"x":102,"y":3.5},{"s":4,"x":103,"y":2.8},{"s":4,"x":105,"y":1.6},{"s":4,"x":108,"y":1.0},{"s":4,"x":115,"y":0.72},{"s":4,"x":130,"y":0.7},{"s":4,"x":149,"y":0.75},{"s":4,"x":150,"y":2.0},{"s":4,"x":151,"y":3.7},{"s":4,"x":152,"y":3.2},{"s":4,"x":154,"y":1.8},{"s":4,"x":157,"y":1.1},{"s":4,"x":162,"y":0.75},{"s":4,"x":175,"y":0.58},{"s":4,"x":190,"y":0.62},{"s":4,"x":199,"y":0.65},{"s":4,"x":200,"y":3.9},{"s":4,"x":202,"y":3.3},{"s":4,"x":205,"y":2.7},{"s":4,"x":207,"y":2.6}
],
"b6":[
{"s":3,"x":1,"y":0.85},{"s":3,"x":20,"y":0.83},{"s":3,"x":49,"y":0.85},{"s":3,"x":51,"y":2.0},{"s":3,"x":54,"y":0.8},{"s":3,"x":80,"y":0.72},{"s":3,"x":99,"y":0.8},{"s":3,"x":101,"y":2.5},{"s":3,"x":104,"y":0.9},{"s":3,"x":149,"y":0.8},{"s":3,"x":151,"y":2.5},{"s":3,"x":154,"y":0.8},{"s":3,"x":175,"y":0.7},{"s":3,"x":199,"y":0.7},{"s":3,"x":200,"y":3.0},{"s":3,"x":204,"y":2.7},{"s":3,"x":207,"y":2.4},
{"s":7,"x":1,"y":0.9},{"s":7,"x":49,"y":0.9},{"s":7,"x":51,"y":2.5},{"s":7,"x":54,"y":0.8},{"s":7,"x":99,"y":0.8},{"s":7,"x":101,"y":3.0},{"s":7,"x":104,"y":0.9},{"s":7,"x":149,"y":0.8},{"s":7,"x":151,"y":2.8},{"s":7,"x":154,"y":0.9},{"s":7,"x":199,"y":0.8},{"s":7,"x":200,"y":4.5},{"s":7,"x":204,"y":3.8},{"s":7,"x":207,"y":3.4},
{"s":2,"x":1,"y":0.95},{"s":2,"x":49,"y":0.95},{"s":2,"x":51,"y":2.8},{"s":2,"x":54,"y":1.0},{"s":2,"x":99,"y":0.9},{"s":2,"x":101,"y":4.0},{"s":2,"x":103,"y":2.0},{"s":2,"x":107,"y":1.4},{"s":2,"x":110,"y":1.2},{"s":2,"x":149,"y":0.9},{"s":2,"x":151,"y":3.5},{"s":2,"x":154,"y":1.1},{"s":2,"x":199,"y":0.85},{"s":2,"x":200,"y":4.0},{"s":2,"x":204,"y":3.5},{"s":2,"x":207,"y":3.2},
{"s":1,"x":1,"y":1.0},{"s":1,"x":49,"y":1.0},{"s":1,"x":51,"y":3.0},{"s":1,"x":54,"y":1.1},{"s":1,"x":99,"y":0.95},{"s":1,"x":101,"y":3.5},{"s":1,"x":104,"y":2.0},{"s":1,"x":107,"y":1.5},{"s":1,"x":110,"y":1.2},{"s":1,"x":130,"y":1.1},{"s":1,"x":149,"y":1.0},{"s":1,"x":151,"y":3.0},{"s":1,"x":154,"y":1.2},{"s":1,"x":199,"y":0.95},{"s":1,"x":200,"y":3.5},{"s":1,"x":204,"y":3.0},{"s":1,"x":207,"y":2.8},
{"s":12,"x":1,"y":1.0},{"s":12,"x":49,"y":1.0},{"s":12,"x":51,"y":1.5},{"s":12,"x":54,"y":0.7},{"s":12,"x":80,"y":0.6},{"s":12,"x":99,"y":0.7},{"s":12,"x":101,"y":2.0},{"s":12,"x":104,"y":0.6},{"s":12,"x":149,"y":0.65},{"s":12,"x":151,"y":2.0},{"s":12,"x":154,"y":0.5},{"s":12,"x":170,"y":0.5},{"s":12,"x":199,"y":0.6},{"s":12,"x":200,"y":4.8},{"s":12,"x":204,"y":4.2},{"s":12,"x":207,"y":3.6},
{"s":6,"x":1,"y":0.95},{"s":6,"x":49,"y":0.95},{"s":6,"x":51,"y":2.5},{"s":6,"x":54,"y":1.2},{"s":6,"x":62,"y":1.1},{"s":6,"x":66,"y":1.3},{"s":6,"x":69,"y":2.0},{"s":6,"x":72,"y":2.3},{"s":6,"x":75,"y":1.8},{"s":6,"x":78,"y":1.2},{"s":6,"x":99,"y":1.0},{"s":6,"x":101,"y":3.0},{"s":6,"x":104,"y":1.2},{"s":6,"x":130,"y":1.0},{"s":6,"x":149,"y":1.0},{"s":6,"x":151,"y":3.0},{"s":6,"x":154,"y":1.0},{"s":6,"x":199,"y":0.9},{"s":6,"x":200,"y":2.0},{"s":6,"x":204,"y":1.6},{"s":6,"x":207,"y":1.3},
{"s":11,"x":1,"y":1.0},{"s":11,"x":49,"y":1.0},{"s":11,"x":53,"y":0.9},{"s":11,"x":70,"y":1.0},{"s":11,"x":99,"y":0.9},{"s":11,"x":101,"y":3.5},{"s":11,"x":103,"y":2.0},{"s":11,"x":106,"y":1.3},{"s":11,"x":120,"y":1.2},{"s":11,"x":149,"y":1.0},{"s":11,"x":151,"y":3.5},{"s":11,"x":153,"y":1.5},{"s":11,"x":160,"y":1.3},{"s":11,"x":180,"y":1.4},{"s":11,"x":186,"y":1.6},{"s":11,"x":190,"y":1.4},{"s":11,"x":199,"y":1.1},{"s":11,"x":200,"y":3.2},{"s":11,"x":204,"y":2.8},{"s":11,"x":207,"y":2.5},
{"s":4,"x":1,"y":1.1},{"s":4,"x":8,"y":1.1},{"s":4,"x":10,"y":1.6},{"s":4,"x":12,"y":2.7},{"s":4,"x":14,"y":1.8},{"s":4,"x":17,"y":1.2},{"s":4,"x":27,"y":1.1},{"s":4,"x":29,"y":1.8},{"s":4,"x":30,"y":2.7},{"s":4,"x":32,"y":1.8},{"s":4,"x":35,"y":1.2},{"s":4,"x":40,"y":1.5},{"s":4,"x":42,"y":2.3},{"s":4,"x":44,"y":1.8},{"s":4,"x":47,"y":1.4},{"s":4,"x":50,"y":1.3},{"s":4,"x":52,"y":1.1},{"s":4,"x":55,"y":1.6},{"s":4,"x":58,"y":2.0},{"s":4,"x":62,"y":1.9},{"s":4,"x":66,"y":1.9},{"s":4,"x":70,"y":2.2},{"s":4,"x":73,"y":2.0},{"s":4,"x":76,"y":2.3},{"s":4,"x":80,"y":2.1},{"s":4,"x":85,"y":1.9},{"s":4,"x":90,"y":1.7},{"s":4,"x":95,"y":1.6},{"s":4,"x":99,"y":1.7},{"s":4,"x":101,"y":2.0},{"s":4,"x":104,"y":1.5},{"s":4,"x":110,"y":1.6},{"s":4,"x":115,"y":1.8},{"s":4,"x":120,"y":1.5},{"s":4,"x":125,"y":1.6},{"s":4,"x":130,"y":1.8},{"s":4,"x":135,"y":1.6},{"s":4,"x":140,"y":1.5},{"s":4,"x":148,"y":1.5},{"s":4,"x":150,"y":1.9},{"s":4,"x":152,"y":1.6},{"s":4,"x":158,"y":1.4},{"s":4,"x":162,"y":2.2},{"s":4,"x":166,"y":2.0},{"s":4,"x":170,"y":1.8},{"s":4,"x":175,"y":1.9},{"s":4,"x":180,"y":1.7},{"s":4,"x":186,"y":1.6},{"s":4,"x":190,"y":1.5},{"s":4,"x":195,"y":1.3},{"s":4,"x":199,"y":1.3},{"s":4,"x":200,"y":2.5},{"s":4,"x":204,"y":2.2},{"s":4,"x":207,"y":2.0},
{"s":5,"x":1,"y":0.9},{"s":5,"x":20,"y":0.88},{"s":5,"x":49,"y":0.9},{"s":5,"x":50,"y":2.0},{"s":5,"x":52,"y":4.6},{"s":5,"x":53,"y":4.3},{"s":5,"x":55,"y":2.0},{"s":5,"x":57,"y":0.8},{"s":5,"x":70,"y":0.75},{"s":5,"x":99,"y":0.8},{"s":5,"x":100,"y":3.0},{"s":5,"x":101,"y":5.0},{"s":5,"x":103,"y":4.8},{"s":5,"x":104,"y":3.0},{"s":5,"x":106,"y":1.5},{"s":5,"x":108,"y":0.8},{"s":5,"x":130,"y":0.75},{"s":5,"x":148,"y":0.8},{"s":5,"x":149,"y":4.2},{"s":5,"x":150,"y":2.0},{"s":5,"x":151,"y":4.9},{"s":5,"x":153,"y":4.7},{"s":5,"x":155,"y":2.5},{"s":5,"x":157,"y":1.0},{"s":5,"x":170,"y":0.8},{"s":5,"x":199,"y":0.75},{"s":5,"x":200,"y":5.8},{"s":5,"x":203,"y":5.0},{"s":5,"x":206,"y":4.0},{"s":5,"x":207,"y":3.5}
]
},
"columns":2,
"align":"each",
"bounds":"flush",
"spacing":{"row":56,"column":128},
"concat":[
{"title":{"text":"Non-Responders (14 out of 103)","dx":7,"offset":4},"width":425,"height":87,
 "layer":[
  {"data":{"name":"ev"},"mark":{"type":"rule","color":"#F4B03C","strokeDash":[2,2],"strokeWidth":1.2},"encoding":{"x":{"field":"e","type":"quantitative"}}},
  {"data":{"name":"a1"},"mark":{"type":"line","strokeWidth":2.6,"clip":true},"encoding":{"x":{"field":"x","type":"quantitative","scale":{"domain":[1,214],"nice":false,"zero":false},"axis":{"values":[50,100,150,200],"title":null}},"y":{"field":"y","type":"quantitative","scale":{"domain":[0,5],"nice":false},"axis":{"values":[0,5],"title":null}},"stroke":{"field":"s","type":"nominal","scale":{"domain":[1,2,3,4,5,6,7,8,9,10,11,12,13,14]},"legend":null}}},
  {"data":{"name":"one"},"mark":{"type":"rule","color":"#00FF00","strokeDash":[10,8],"strokeWidth":3},"encoding":{"x":{"datum":1},"x2":{"datum":208},"y":{"datum":1.2}}},
  {"data":{"name":"ev"},"mark":{"type":"point","shape":"circle","filled":false,"color":"#F0A020","size":45,"strokeWidth":1.6,"opacity":1},"encoding":{"x":{"field":"e","type":"quantitative"},"y":{"datum":4.8}}},
  {"data":{"name":"lg"},"mark":{"type":"rule","clip":true,"strokeWidth":1.5},"encoding":{"y":{"datum":-5},
    "color":{"field":"k","type":"nominal","scale":{"domain":["Events","Threshold"],"range":["#F0A020","#00E000"]},"legend":{"title":null,"orient":"none","legendX":6,"legendY":16,"direction":"horizontal","fillColor":"white","strokeColor":"#222","padding":3,"symbolType":"stroke","symbolSize":500,"symbolStrokeWidth":2,"columnPadding":8,"labelOffset":3}},
    "strokeDash":{"field":"k","type":"nominal","scale":{"domain":["Events","Threshold"],"range":[[3,2],[7,5]]},"legend":{"title":null,"orient":"none","legendX":6,"legendY":16,"direction":"horizontal","fillColor":"white","strokeColor":"#222","padding":3,"symbolType":"stroke","symbolSize":500,"symbolStrokeWidth":2,"columnPadding":8,"labelOffset":3}}}}
 ]},
{"title":{"text":"Responders to only Event 1 (4 out of 103)","dx":-8,"offset":4},"width":420,"height":87,
 "layer":[
  {"data":{"name":"ev"},"mark":{"type":"rule","color":"#F4B03C","strokeDash":[2,2],"strokeWidth":1.2},"encoding":{"x":{"field":"e","type":"quantitative"}}},
  {"data":{"name":"a2"},"mark":{"type":"line","strokeWidth":2.6,"clip":true},"encoding":{"x":{"field":"x","type":"quantitative","scale":{"domain":[1,214],"nice":false,"zero":false},"axis":{"values":[50,100,150,200],"title":null}},"y":{"field":"y","type":"quantitative","scale":{"domain":[0,5],"nice":false},"axis":{"values":[0,5],"title":null}},"stroke":{"field":"s","type":"nominal","scale":{"domain":[1,2,3,4,5,6,7,8,9,10,11,12,13,14]},"legend":null}}},
  {"data":{"name":"one"},"mark":{"type":"rule","color":"#00FF00","strokeDash":[10,8],"strokeWidth":3},"encoding":{"x":{"datum":1},"x2":{"datum":214},"y":{"datum":1.2}}},
  {"data":{"name":"ev"},"mark":{"type":"point","shape":"circle","filled":false,"color":"#F0A020","size":45,"strokeWidth":1.6,"opacity":1},"encoding":{"x":{"field":"e","type":"quantitative"},"y":{"datum":4.8}}}
 ]},
{"width":425,"height":94,"view":{"fill":"#c8c8c8","stroke":null},"data":{"values":[{"t":"Responders to only Event 2 (0 out of 103)"}]},"mark":{"type":"text","fontSize":15.5,"color":"#111"},
 "encoding":{"text":{"field":"t"},
  "x":{"datum":0.5,"type":"quantitative","scale":{"domain":[0,1]},"axis":{"title":"High (-) Feedback","labels":false,"ticks":false,"domain":false,"titleX":484,"titleY":-271,"titleAngle":0,"titleAlign":"center","titleBaseline":"middle","titleFontSize":25,"titleColor":"#000"}},
  "y":{"datum":0.5,"type":"quantitative","scale":{"domain":[0,1]},"axis":{"title":"Normalized Fluorescence Intensity","labels":false,"ticks":false,"domain":false,"titleX":-42,"titleY":124,"titleAngle":-90,"titleAlign":"center","titleBaseline":"middle","titleFontSize":19}}}},
{"width":420,"height":94,"view":{"fill":"#c8c8c8","stroke":null},"data":{"values":[{"t":"Responders to only Event 3 (0 out of 103)"}]},"mark":{"type":"text","fontSize":15.5,"color":"#111"},"encoding":{"text":{"field":"t"},"x":{"datum":0.5,"type":"quantitative","scale":{"domain":[0,1]},"axis":null},"y":{"datum":0.5,"type":"quantitative","scale":{"domain":[0,1]},"axis":null}}},
{"width":425,"height":92,"view":{"fill":"#c8c8c8","stroke":null},"data":{"values":[{"t":"Responders to only Event 1 & 2 (0 out of 103)"}]},"mark":{"type":"text","fontSize":15.5,"color":"#111"},
 "encoding":{"text":{"field":"t"},"x":{"datum":0.5,"type":"quantitative","scale":{"domain":[0,1]},"axis":null},
  "y":{"datum":0.5,"type":"quantitative","scale":{"domain":[0,1]},"axis":{"title":"A","labels":false,"ticks":false,"domain":false,"titleX":-51,"titleY":-327,"titleAngle":0,"titleAlign":"left","titleBaseline":"middle","titleFont":"Liberation Sans","titleFontSize":19,"titleColor":"#000"}}}},
{"title":{"text":"Responders to only Event 1 & 3 (22 out of 103)","dx":-2},"width":420,"height":89,
 "layer":[
  {"data":{"name":"ev"},"mark":{"type":"rule","color":"#F4B03C","strokeDash":[2,2],"strokeWidth":1.2},"encoding":{"x":{"field":"e","type":"quantitative"}}},
  {"data":{"name":"a3"},"mark":{"type":"line","strokeWidth":2.6,"clip":true},"encoding":{"x":{"field":"x","type":"quantitative","scale":{"domain":[1,214],"nice":false,"zero":false},"axis":{"values":[50,100,150,200],"title":null}},"y":{"field":"y","type":"quantitative","scale":{"domain":[0,6.4],"nice":false},"axis":{"values":[0,5],"title":null}},"stroke":{"field":"s","type":"nominal","scale":{"domain":[1,2,3,4,5,6,7,8,9,10,11,12,13,14]},"legend":null}}},
  {"data":{"name":"one"},"mark":{"type":"rule","color":"#00FF00","strokeDash":[10,8],"strokeWidth":3},"encoding":{"x":{"datum":1},"x2":{"datum":214},"y":{"datum":1.2}}},
  {"data":{"name":"ev"},"mark":{"type":"point","shape":"circle","filled":false,"color":"#F0A020","size":45,"strokeWidth":1.6,"opacity":1},"encoding":{"x":{"field":"e","type":"quantitative"},"y":{"datum":6.15}}}
 ]},
{"width":425,"height":93,"view":{"fill":"#c8c8c8","stroke":null},"data":{"values":[{"t":"Responders to only Event 2 & 3 (0 out of 103)"}]},"mark":{"type":"text","fontSize":15.5,"color":"#111"},
 "encoding":{"text":{"field":"t"},"x":{"datum":0.5,"type":"quantitative","scale":{"domain":[0,1]},"axis":{"title":"Frame Number","labels":false,"ticks":false,"domain":false,"titleX":214,"titleY":40,"titleAlign":"center","titleBaseline":"middle"}},"y":{"datum":0.5,"type":"quantitative","scale":{"domain":[0,1]},"axis":null}}},
{"title":{"text":"Responders to All Events (63 out of 103)","dx":-6},"width":420,"height":88,
 "layer":[
  {"data":{"name":"ev"},"mark":{"type":"rule","color":"#F4B03C","strokeDash":[2,2],"strokeWidth":1.2},"encoding":{"x":{"field":"e","type":"quantitative"}}},
  {"data":{"name":"a4"},"mark":{"type":"line","strokeWidth":2.6,"clip":true},"encoding":{"x":{"field":"x","type":"quantitative","scale":{"domain":[1,214],"nice":false,"zero":false},"axis":{"values":[50,100,150,200],"title":"Frame Number","titleX":211,"titleY":43,"titleAlign":"center","titleBaseline":"middle"}},"y":{"field":"y","type":"quantitative","scale":{"domain":[0,6.7],"nice":false},"axis":{"values":[0,5],"title":null}},"stroke":{"field":"s","type":"nominal","scale":{"domain":[1,2,3,4,5,6,7,8,9,10,11,12,13,14]},"legend":null}}},
  {"data":{"name":"one"},"mark":{"type":"rule","color":"#00FF00","strokeDash":[10,8],"strokeWidth":3},"encoding":{"x":{"datum":1},"x2":{"datum":214},"y":{"datum":1.2}}},
  {"data":{"name":"ev"},"mark":{"type":"point","shape":"circle","filled":false,"color":"#F0A020","size":45,"strokeWidth":1.6,"opacity":1},"encoding":{"x":{"field":"e","type":"quantitative"},"y":{"datum":6.45}}}
 ]},
{"width":425,"height":14,"view":{"stroke":null},"data":{"name":"one"},"mark":{"type":"point","opacity":0},"encoding":{}},
{"width":420,"height":14,"view":{"stroke":null},"data":{"name":"one"},"mark":{"type":"point","opacity":0},"encoding":{}},
{"title":{"text":"Non-Responders (20 out of 123)","dx":-6,"offset":8},"width":433,"height":86,"view":{"stroke":null},
 "layer":[
  {"data":{"name":"one"},"mark":{"type":"rect","filled":false,"stroke":"#333333","strokeWidth":2},"encoding":{"x":{"datum":0.5},"x2":{"datum":215},"y":{"datum":0},"y2":{"datum":30}}},
  {"data":{"name":"ev"},"mark":{"type":"rule","color":"#F4B03C","strokeDash":[2,2],"strokeWidth":1.2},"encoding":{"x":{"field":"e","type":"quantitative"}}},
  {"data":{"name":"b1"},"mark":{"type":"line","strokeWidth":2.6,"clip":true},"encoding":{"x":{"field":"x","type":"quantitative","scale":{"domain":[-7.2,215],"nice":false,"zero":false},"axis":{"values":[50,100,150,200],"title":null}},"y":{"field":"y","type":"quantitative","scale":{"domain":[0,30],"nice":false},"axis":{"values":[0,20],"offset":-15,"title":null}},"stroke":{"field":"s","type":"nominal","scale":{"domain":[1,2,3,4,5,6,7,8,9,10,11,12,13,14]},"legend":null}}},
  {"data":{"name":"one"},"mark":{"type":"rule","color":"#00FF00","strokeDash":[10,8],"strokeWidth":3},"encoding":{"x":{"datum":1},"x2":{"datum":208},"y":{"datum":1.2}}},
  {"data":{"name":"ev"},"mark":{"type":"point","shape":"circle","filled":false,"color":"#F0A020","size":45,"strokeWidth":1.6,"opacity":1},"encoding":{"x":{"field":"e","type":"quantitative"},"y":{"datum":28.8}}},
  {"data":{"name":"lg"},"mark":{"type":"rule","clip":true,"strokeWidth":1.5},"encoding":{"y":{"datum":-5},
    "color":{"field":"k","type":"nominal","scale":{"domain":["Events","Threshold"],"range":["#F0A020","#00E000"]},"legend":{"title":null,"orient":"none","legendX":27,"legendY":20,"direction":"horizontal","fillColor":"white","strokeColor":"#222","padding":3,"symbolType":"stroke","symbolSize":500,"symbolStrokeWidth":2,"columnPadding":8,"labelOffset":3}},
    "strokeDash":{"field":"k","type":"nominal","scale":{"domain":["Events","Threshold"],"range":[[3,2],[7,5]]},"legend":{"title":null,"orient":"none","legendX":27,"legendY":20,"direction":"horizontal","fillColor":"white","strokeColor":"#222","padding":3,"symbolType":"stroke","symbolSize":500,"symbolStrokeWidth":2,"columnPadding":8,"labelOffset":3}}}}
 ]},
{"width":420,"height":84,"view":{"fill":"#c8c8c8","stroke":null},"data":{"values":[{"t":"Responders to only Event 1 (0 out of 123)"}]},"mark":{"type":"text","fontSize":15.5,"color":"#111"},
 "encoding":{"text":{"field":"t"},
  "x":{"datum":0.5,"type":"quantitative","scale":{"domain":[0,1]},"axis":{"title":"Low (-) Feedback","labels":false,"ticks":false,"domain":false,"titleX":-72,"titleY":-113,"titleAngle":0,"titleAlign":"center","titleBaseline":"middle","titleFontSize":25,"titleColor":"#000"}},
  "y":{"datum":0.5,"type":"quantitative","scale":{"domain":[0,1]},"axis":{"title":"B","labels":false,"ticks":false,"domain":false,"titleX":-612,"titleY":-38,"titleAngle":0,"titleAlign":"left","titleBaseline":"middle","titleFont":"Liberation Sans","titleFontSize":19,"titleColor":"#000"}}}},
{"title":{"text":"Responders to only Event 2 (6 out of 123)","dx":1,"offset":4},"width":433,"height":83,"view":{"stroke":null},
 "layer":[
  {"data":{"name":"one"},"mark":{"type":"rect","filled":false,"stroke":"#333333","strokeWidth":2},"encoding":{"x":{"datum":0.5},"x2":{"datum":215},"y":{"datum":0},"y2":{"datum":5.1}}},
  {"data":{"name":"ev"},"mark":{"type":"rule","color":"#F4B03C","strokeDash":[2,2],"strokeWidth":1.2},"encoding":{"x":{"field":"e","type":"quantitative"}}},
  {"data":{"name":"b2"},"mark":{"type":"line","strokeWidth":2.6,"clip":true},"encoding":{"x":{"field":"x","type":"quantitative","scale":{"domain":[-7.2,215],"nice":false,"zero":false},"axis":{"values":[50,100,150,200],"title":null}},"y":{"field":"y","type":"quantitative","scale":{"domain":[0,5.1],"nice":false},"axis":{"values":[0,5],"offset":-15,"title":null}},"stroke":{"field":"s","type":"nominal","scale":{"domain":[1,2,3,4,5,6,7,8,9,10,11,12,13,14]},"legend":null}}},
  {"data":{"name":"one"},"mark":{"type":"rule","color":"#00FF00","strokeDash":[10,8],"strokeWidth":3},"encoding":{"x":{"datum":1},"x2":{"datum":208},"y":{"datum":1.2}}},
  {"data":{"name":"ev"},"mark":{"type":"point","shape":"circle","filled":false,"color":"#F0A020","size":45,"strokeWidth":1.6,"opacity":1},"encoding":{"x":{"field":"e","type":"quantitative"},"y":{"datum":4.9}}}
 ]},
{"title":{"text":"Responders to only Event 3 (11 out of 123)","dx":-6,"offset":4},"width":420,"height":84,"view":{"stroke":null},
 "layer":[
  {"data":{"name":"one"},"mark":{"type":"rect","filled":false,"stroke":"#333333","strokeWidth":2},"encoding":{"x":{"datum":0.85},"x2":{"datum":211.3},"y":{"datum":0},"y2":{"datum":5}}},
  {"data":{"name":"ev"},"mark":{"type":"rule","color":"#F4B03C","strokeDash":[2,2],"strokeWidth":1.2},"encoding":{"x":{"field":"e","type":"quantitative"}}},
  {"data":{"name":"b3"},"mark":{"type":"line","strokeWidth":2.6,"clip":true},"encoding":{"x":{"field":"x","type":"quantitative","scale":{"domain":[-3.8,211.3],"nice":false,"zero":false},"axis":{"values":[50,100,150,200],"title":null}},"y":{"field":"y","type":"quantitative","scale":{"domain":[0,5],"nice":false},"axis":{"values":[0,5],"offset":-9,"title":null}},"stroke":{"field":"s","type":"nominal","scale":{"domain":[1,2,3,4,5,6,7,8,9,10,11,12,13,14]},"legend":null}}},
  {"data":{"name":"one"},"mark":{"type":"rule","color":"#00FF00","strokeDash":[10,8],"strokeWidth":3},"encoding":{"x":{"datum":1},"x2":{"datum":211},"y":{"datum":1.2}}},
  {"data":{"name":"ev"},"mark":{"type":"point","shape":"circle","filled":false,"color":"#F0A020","size":45,"strokeWidth":1.6,"opacity":1},"encoding":{"x":{"field":"e","type":"quantitative"},"y":{"datum":4.4}}}
 ]},
{"width":433,"height":92,"view":{"stroke":null},
 "layer":[
  {"data":{"name":"one"},"mark":{"type":"rect","color":"#c8c8c8"},"encoding":{"x":{"datum":0,"type":"quantitative","scale":{"domain":[-13,420],"nice":false,"zero":false},"axis":null},"x2":{"datum":420},
    "y":{"datum":0,"type":"quantitative","scale":{"domain":[0,1],"nice":false},"axis":{"title":"Normalized Fluorescence Intensity","labels":false,"ticks":false,"domain":false,"titleX":-42,"titleY":-9,"titleAngle":-90,"titleAlign":"center","titleBaseline":"middle","titleFontSize":19}},"y2":{"datum":1}}},
  {"data":{"values":[{"t":"Responders to only Event 1 & 2 (0 out of 123)"}]},"mark":{"type":"text","fontSize":15.5,"color":"#111"},"encoding":{"text":{"field":"t"},"x":{"datum":210,"type":"quantitative"},"y":{"datum":0.5,"type":"quantitative"}}}
 ]},
{"title":{"text":"Responders to only Event 1 & 3 (27 out of 123)","dx":0},"width":420,"height":85,"view":{"stroke":null},
 "layer":[
  {"data":{"name":"one"},"mark":{"type":"rect","filled":false,"stroke":"#333333","strokeWidth":2},"encoding":{"x":{"datum":0.85},"x2":{"datum":211.3},"y":{"datum":0},"y2":{"datum":6.5}}},
  {"data":{"name":"ev"},"mark":{"type":"rule","color":"#F4B03C","strokeDash":[2,2],"strokeWidth":1.2},"encoding":{"x":{"field":"e","type":"quantitative"}}},
  {"data":{"name":"b4"},"mark":{"type":"line","strokeWidth":2.6,"clip":true},"encoding":{"x":{"field":"x","type":"quantitative","scale":{"domain":[-3.8,211.3],"nice":false,"zero":false},"axis":{"values":[50,100,150,200],"title":null}},"y":{"field":"y","type":"quantitative","scale":{"domain":[0,6.5],"nice":false},"axis":{"values":[0,5],"offset":-9,"title":null}},"stroke":{"field":"s","type":"nominal","scale":{"domain":[1,2,3,4,5,6,7,8,9,10,11,12,13,14]},"legend":null}}},
  {"data":{"name":"one"},"mark":{"type":"rule","color":"#00FF00","strokeDash":[10,8],"strokeWidth":3},"encoding":{"x":{"datum":1},"x2":{"datum":211},"y":{"datum":1.2}}},
  {"data":{"name":"ev"},"mark":{"type":"point","shape":"circle","filled":false,"color":"#F0A020","size":45,"strokeWidth":1.6,"opacity":1},"encoding":{"x":{"field":"e","type":"quantitative"},"y":{"datum":6.4}}}
 ]},
{"title":{"text":"Responders to only Event 2 & 3 (12 out of 123)","dx":1},"width":433,"height":84,"view":{"stroke":null},
 "layer":[
  {"data":{"name":"one"},"mark":{"type":"rect","filled":false,"stroke":"#333333","strokeWidth":2},"encoding":{"x":{"datum":0.5},"x2":{"datum":215},"y":{"datum":0},"y2":{"datum":5.45}}},
  {"data":{"name":"ev"},"mark":{"type":"rule","color":"#F4B03C","strokeDash":[2,2],"strokeWidth":1.2},"encoding":{"x":{"field":"e","type":"quantitative"}}},
  {"data":{"name":"b5"},"mark":{"type":"line","strokeWidth":2.6,"clip":true},"encoding":{"x":{"field":"x","type":"quantitative","scale":{"domain":[-7.2,215],"nice":false,"zero":false},"axis":{"values":[50,100,150,200],"title":"Frame Number","titleX":213,"titleY":60,"titleAlign":"center","titleBaseline":"middle"}},"y":{"field":"y","type":"quantitative","scale":{"domain":[0,5.45],"nice":false},"axis":{"values":[0,5],"offset":-15,"title":null}},"stroke":{"field":"s","type":"nominal","scale":{"domain":[1,2,3,4,5,6,7,8,9,10,11,12,13,14]},"legend":null}}},
  {"data":{"name":"one"},"mark":{"type":"rule","color":"#00FF00","strokeDash":[10,8],"strokeWidth":3},"encoding":{"x":{"datum":1},"x2":{"datum":208},"y":{"datum":1.2}}},
  {"data":{"name":"ev"},"mark":{"type":"point","shape":"circle","filled":false,"color":"#F0A020","size":45,"strokeWidth":1.6,"opacity":1},"encoding":{"x":{"field":"e","type":"quantitative"},"y":{"datum":5.35}}}
 ]},
{"title":{"text":"Responders to All Events (47 out of 123)","dx":-8},"width":420,"height":85,"view":{"stroke":null},
 "layer":[
  {"data":{"name":"one"},"mark":{"type":"rect","filled":false,"stroke":"#333333","strokeWidth":2},"encoding":{"x":{"datum":0.85},"x2":{"datum":211.3},"y":{"datum":0},"y2":{"datum":6.8}}},
  {"data":{"name":"ev"},"mark":{"type":"rule","color":"#F4B03C","strokeDash":[2,2],"strokeWidth":1.2},"encoding":{"x":{"field":"e","type":"quantitative"}}},
  {"data":{"name":"b6"},"mark":{"type":"line","strokeWidth":2.6,"clip":true},"encoding":{"x":{"field":"x","type":"quantitative","scale":{"domain":[-3.8,211.3],"nice":false,"zero":false},"axis":{"values":[50,100,150,200],"title":"Frame Number","titleX":205,"titleY":59,"titleAlign":"center","titleBaseline":"middle"}},"y":{"field":"y","type":"quantitative","scale":{"domain":[0,6.8],"nice":false},"axis":{"values":[0,5],"offset":-9,"title":null}},"stroke":{"field":"s","type":"nominal","scale":{"domain":[1,2,3,4,5,6,7,8,9,10,11,12,13,14]},"legend":null}}},
  {"data":{"name":"one"},"mark":{"type":"rule","color":"#00FF00","strokeDash":[10,8],"strokeWidth":3},"encoding":{"x":{"datum":1},"x2":{"datum":208},"y":{"datum":1.2}}},
  {"data":{"name":"ev"},"mark":{"type":"point","shape":"circle","filled":false,"color":"#F0A020","size":45,"strokeWidth":1.6,"opacity":1},"encoding":{"x":{"field":"e","type":"quantitative"},"y":{"datum":6.7}}}
 ]}
]
}
